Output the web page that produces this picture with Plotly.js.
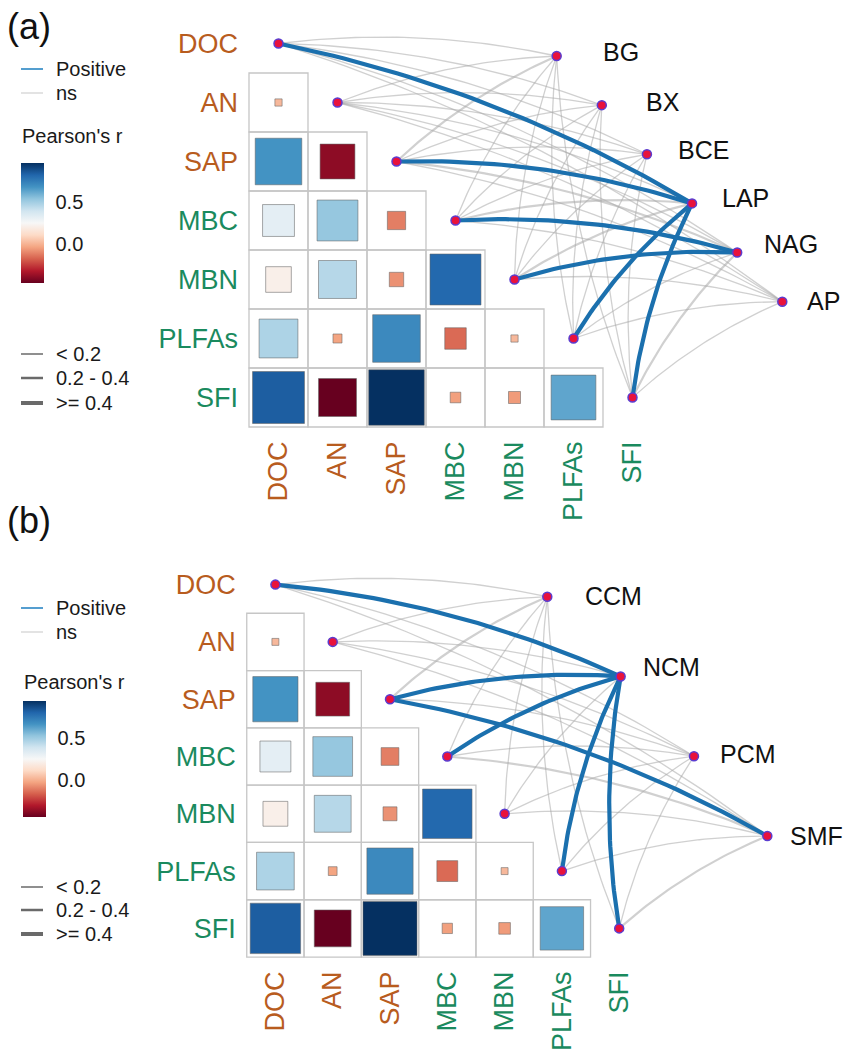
<!DOCTYPE html>
<html>
<head>
<meta charset="utf-8">
<script src="https://cdn.plot.ly/plotly-3.0.1.min.js"></script>
<style>html,body{margin:0;padding:0;background:#fff;}#chart{width:851px;height:1058px;}</style>
</head>
<body>
<div id="chart"></div>
<script>
// ---------------- DATA ----------------
const vars = ['DOC', 'AN', 'SAP', 'MBC', 'MBN', 'PLFAs', 'SFI'];
const varGroup = ['soil', 'soil', 'soil', 'micro', 'micro', 'micro', 'micro'];
// Pearson's r, lower triangle (row i, columns 0..i-1)
const corrRows = [
  [],
  [0.02],
  [0.67, -0.38],
  [0.32, 0.52, -0.11],
  [0.21, 0.45, -0.07, 0.80],
  [0.47, -0.03, 0.70, -0.15, 0.02],
  [0.83, -0.45, 0.95, -0.04, -0.05, 0.62]
];
// Panel (a): enzyme activities
const envA = ['BG', 'BX', 'BCE', 'LAP', 'NAG', 'AP'];
const mantelA = [
  [0.12, 0.15, 0.10, 0.45, 0.18, 0.08],
  [0.08, 0.10, 0.14, 0.16, 0.12, 0.06],
  [0.22, 0.18, 0.12, 0.46, 0.25, 0.10],
  [0.10, 0.12, 0.15, 0.20, 0.42, 0.13],
  [0.14, 0.09, 0.11, 0.24, 0.41, 0.15],
  [0.07, 0.13, 0.16, 0.43, 0.19, 0.11],
  [0.11, 0.17, 0.09, 0.44, 0.21, 0.14]
];
const sigA = [
  ['ns', 'ns', 'ns', 'Positive', 'ns', 'ns'],
  ['ns', 'ns', 'ns', 'ns', 'ns', 'ns'],
  ['ns', 'ns', 'ns', 'Positive', 'ns', 'ns'],
  ['ns', 'ns', 'ns', 'ns', 'Positive', 'ns'],
  ['ns', 'ns', 'ns', 'ns', 'Positive', 'ns'],
  ['ns', 'ns', 'ns', 'Positive', 'ns', 'ns'],
  ['ns', 'ns', 'ns', 'Positive', 'ns', 'ns']
];
// Panel (b): carbon / nutrient metrics
const envB = ['CCM', 'NCM', 'PCM', 'SMF'];
const mantelB = [
  [0.15, 0.45, 0.12, 0.18],
  [0.08, 0.13, 0.10, 0.09],
  [0.20, 0.47, 0.16, 0.42],
  [0.12, 0.41, 0.14, 0.23],
  [0.10, 0.17, 0.08, 0.12],
  [0.09, 0.43, 0.11, 0.15],
  [0.13, 0.44, 0.18, 0.21]
];
const sigB = [
  ['ns', 'Positive', 'ns', 'ns'],
  ['ns', 'ns', 'ns', 'ns'],
  ['ns', 'Positive', 'ns', 'Positive'],
  ['ns', 'Positive', 'ns', 'ns'],
  ['ns', 'ns', 'ns', 'ns'],
  ['ns', 'Positive', 'ns', 'ns'],
  ['ns', 'Positive', 'ns', 'ns']
];
const colorTicks = [0, 0.5];
const colorTickText = ['0.0', '0.5'];
const sizeLegend = ['< 0.2', '0.2 - 0.4', '>= 0.4'];
const sigLegend = ['Positive', 'ns'];

// ---------------- STYLE / LAYOUT ----------------
const W = 851, H = 1058;
const FONT = 'Liberation Sans, Arial, sans-serif';
const groupColor = {soil: '#b85c1e', micro: '#1a8a5e'};
const sigColor = {Positive: '#1b70ae', ns: 'rgba(170,170,170,0.55)'};
const RdBu = ['#67001f', '#b2182b', '#d6604d', '#f4a582', '#fddbc7', '#f7f7f7', '#d1e5f0', '#92c5de', '#4393c3', '#2166ac', '#053061'];
const colorscale = RdBu.map((c, k) => [k / 10, c]);
const CMIN = -0.45, CMAX = 0.95;
function widthFor(r) { return r >= 0.4 ? 4.2 : (r >= 0.2 ? 2.2 : 1.3); }

const panels = [
  {name: '(a)', xa: 'x', ya: 'y', xaxis: 'xaxis', yaxis: 'yaxis', cell: 59, ox: 278.5, oy: 43.5, top: 0, bot: 529,
   env: envA, mantel: mantelA, sig: sigA, envStart: [4.715, 0.212], envEnd: [8.539, 4.376],
   labDx: [44, 42, 29, 28, 25, 23], labDy: [-4, -3, -4, -5, -9, -1],
   tagY: 26, legY: [69, 93], cbTitleY: 136, cb: {x: 21, y0: 163, y1: 283}, szY: [354, 378, 403], cbx: 21},
  {name: '(b)', xa: 'x2', ya: 'y2', xaxis: 'xaxis2', yaxis: 'yaxis2', cell: 57.3, ox: 275.4, oy: 584.6, top: 529, bot: 1058,
   env: envB, mantel: mantelB, sig: sigB, envStart: [4.745, 0.211], envEnd: [8.585, 4.387],
   labDx: [36, 20, 24, 21], labDy: [-1, -9, -2, 0],
   tagY: 520, legY: [608, 632], cbTitleY: 682, cb: {x: 23, y0: 701, y1: 817}, szY: [887, 910, 934], cbx: 23}
];

const traces = [], shapes = [], annotations = [];
const layout = {
  width: W, height: H, margin: {l: 0, r: 0, t: 0, b: 0},
  paper_bgcolor: '#ffffff', plot_bgcolor: '#ffffff', showlegend: false,
  font: {family: FONT, color: '#1a1a1a'}
};
const py = px => 1 - px / H;

function curve(p0, p1, h, n) {
  const dx = p1[0] - p0[0], dy = p1[1] - p0[1];
  const cx = (p0[0] + p1[0]) / 2 + h * dy, cy = (p0[1] + p1[1]) / 2 - h * dx;
  const xs = [], ys = [];
  for (let k = 0; k <= n; k++) {
    const t = k / n, a = (1 - t) * (1 - t), b = 2 * t * (1 - t), c = t * t;
    xs.push(a * p0[0] + b * cx + c * p1[0]);
    ys.push(a * p0[1] + b * cy + c * p1[1]);
  }
  return [xs, ys];
}

panels.forEach((P, pi) => {
  const n = vars.length;
  // axes: one data unit = one cell, pixel exact
  layout[P.xaxis] = {
    domain: [0, 1], range: [(0 - P.ox) / P.cell, (W - P.ox) / P.cell],
    showgrid: false, zeroline: false, showline: false, fixedrange: true,
    anchor: 'free', position: py(P.oy + (n - 0.5) * P.cell),
    tickmode: 'array', tickvals: vars.map((v, j) => j),
    ticktext: vars.map((v, j) => `<span style="color:${groupColor[varGroup[j]]}">${v}</span>`),
    tickangle: -90, ticks: '', ticklabelstandoff: 8,
    tickfont: {family: FONT, size: 27}
  };
  layout[P.yaxis] = {
    domain: [1 - P.bot / H, 1 - P.top / H],
    range: [(P.bot - P.oy) / P.cell, (P.top - P.oy) / P.cell],
    showgrid: false, zeroline: false, showline: false, fixedrange: true,
    anchor: 'free', position: (P.ox - 0.5 * P.cell - 11) / W,
    tickmode: 'array', tickvals: vars.map((v, i) => i),
    ticktext: vars.map((v, i) => `<span style="color:${groupColor[varGroup[i]]}">${v}</span>`),
    ticks: '', ticklabelstandoff: 0,
    tickfont: {family: FONT, size: 27}
  };

  // grid cells (lower triangle without diagonal)
  for (let i = 1; i < n; i++) {
    for (let j = 0; j < i; j++) {
      shapes.push({type: 'rect', xref: P.xa, yref: P.ya, layer: 'below',
        x0: j - 0.5, x1: j + 0.5, y0: i - 0.5, y1: i + 0.5,
        line: {color: '#c6c6c6', width: 1.3}, fillcolor: 'rgba(0,0,0,0)'});
    }
  }

  // environment node positions, evenly spaced along a line
  const m = P.env.length;
  const envPos = P.env.map((e, k) => {
    const t = k / (m - 1);
    return [P.envStart[0] + t * (P.envEnd[0] - P.envStart[0]), P.envStart[1] + t * (P.envEnd[1] - P.envStart[1])];
  });

  // Mantel links, grouped by style
  const groups = {};
  const order = [];
  for (let i = 0; i < n; i++) {
    for (let k = 0; k < m; k++) {
      const s = P.sig[i][k], r = P.mantel[i][k];
      const key = s + '|' + widthFor(r);
      if (!groups[key]) { groups[key] = {s: s, w: widthFor(r), x: [], y: []}; order.push(key); }
      const [xs, ys] = curve([i, i], envPos[k], 0.085, 40);
      groups[key].x.push(...xs, null);
      groups[key].y.push(...ys, null);
    }
  }
  order.sort((a, b) => (groups[a].s === 'ns' ? 0 : 1) - (groups[b].s === 'ns' ? 0 : 1) || groups[a].w - groups[b].w);
  order.forEach(key => {
    const g = groups[key];
    traces.push({type: 'scatter', mode: 'lines', xaxis: P.xa, yaxis: P.ya, x: g.x, y: g.y,
      line: {color: sigColor[g.s], width: g.w, shape: 'linear'}, hoverinfo: 'skip', showlegend: false});
  });

  // correlation squares
  const sx = [], sy = [], sc = [], ss = [];
  for (let i = 1; i < n; i++) {
    for (let j = 0; j < i; j++) {
      const r = corrRows[i][j];
      sx.push(j); sy.push(i); sc.push(r);
      ss.push(Math.max(3, P.cell * 0.985 * Math.sqrt(Math.abs(r)) - 1));
    }
  }
  traces.push({type: 'scatter', mode: 'markers', xaxis: P.xa, yaxis: P.ya, x: sx, y: sy,
    marker: {symbol: 'square', size: ss, opacity: 1, color: sc, colorscale: colorscale, cmin: CMIN, cmax: CMAX,
      line: {color: 'rgba(100,100,100,0.55)', width: 1},
      showscale: true,
      colorbar: {x: P.cb.x / W, xanchor: 'left', xref: 'paper', y: py((P.cb.y0 + P.cb.y1) / 2), yanchor: 'middle', yref: 'paper',
        len: P.cb.y1 - P.cb.y0, lenmode: 'pixels', thickness: 23, thicknessmode: 'pixels',
        xpad: 0, ypad: 0, outlinewidth: 0,
        tickmode: 'array', tickvals: colorTicks, ticktext: colorTickText,
        ticks: 'outside', ticklen: 8, tickcolor: 'rgba(0,0,0,0)',
        tickfont: {family: FONT, size: 20, color: '#1a1a1a'}}},
    hoverinfo: 'skip', showlegend: false});

  // white tick marks across the colour bar
  colorTicks.forEach(v => {
    const ypx = P.cb.y1 - (v - CMIN) / (CMAX - CMIN) * (P.cb.y1 - P.cb.y0);
    shapes.push({type: 'line', xref: 'paper', yref: 'paper', x0: (P.cb.x + 1) / W, x1: (P.cb.x + 22) / W,
      y0: py(ypx), y1: py(ypx), line: {color: 'rgba(255,255,255,0.6)', width: 1}});
  });

  // nodes
  const nx = vars.map((v, i) => i).concat(envPos.map(p => p[0]));
  const ny = vars.map((v, i) => i).concat(envPos.map(p => p[1]));
  traces.push({type: 'scatter', mode: 'markers', xaxis: P.xa, yaxis: P.ya, x: nx, y: ny,
    marker: {size: 9, opacity: 1, color: '#e8123c', line: {color: '#5a3cd0', width: 1.5}}, hoverinfo: 'skip', showlegend: false});

  // env labels
  P.env.forEach((e, k) => {
    annotations.push({xref: P.xa, yref: P.ya, x: envPos[k][0] + P.labDx[k] / P.cell, y: envPos[k][1] + P.labDy[k] / P.cell,
      text: e, showarrow: false, xanchor: 'left', yanchor: 'middle', font: {family: FONT, size: 25, color: '#111'}});
  });

  // panel tag
  annotations.push({xref: 'paper', yref: 'paper', x: 5 / W, y: py(P.tagY), text: P.name, showarrow: false,
    xanchor: 'left', yanchor: 'middle', font: {family: FONT, size: 36, color: '#111'}});

  // significance legend
  sigLegend.forEach((s, k) => {
    shapes.push({type: 'line', xref: 'paper', yref: 'paper', x0: 21 / W, x1: 43 / W, y0: py(P.legY[k]), y1: py(P.legY[k]),
      line: {color: s === 'Positive' ? '#2a86c4' : '#dcdcdc', width: 1.6}});
    annotations.push({xref: 'paper', yref: 'paper', x: 54 / W, y: py(P.legY[k]), text: s, showarrow: false,
      xanchor: 'left', yanchor: 'middle', font: {family: FONT, size: 20, color: '#1a1a1a'}});
  });
  // colour bar title
  annotations.push({xref: 'paper', yref: 'paper', x: (P.cbx - 1) / W, y: py(P.cbTitleY), text: "Pearson's r", showarrow: false,
    xanchor: 'left', yanchor: 'middle', font: {family: FONT, size: 20, color: '#1a1a1a'}});
  // size legend
  const szW = [1.5, 2.5, 4];
  sizeLegend.forEach((s, k) => {
    shapes.push({type: 'line', xref: 'paper', yref: 'paper', x0: 21 / W, x1: 43 / W, y0: py(P.szY[k]), y1: py(P.szY[k]),
      line: {color: '#6a6a6a', width: szW[k]}});
    annotations.push({xref: 'paper', yref: 'paper', x: 54 / W, y: py(P.szY[k]), text: s, showarrow: false,
      xanchor: 'left', yanchor: 'middle', font: {family: FONT, size: 20, color: '#1a1a1a'}});
  });
});

layout.shapes = shapes;
layout.annotations = annotations;
Plotly.newPlot('chart', traces, layout, {displayModeBar: false, staticPlot: true});
</script>
</body>
</html>
